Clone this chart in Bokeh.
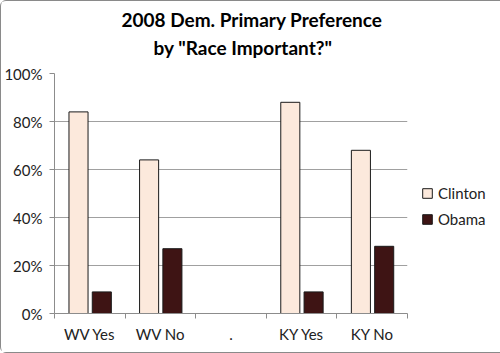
from bokeh.plotting import figure
from bokeh.models import (Range1d, FixedTicker, Legend, LegendItem, Title,
                          PrintfTickFormatter, CustomJSTickFormatter, ColumnDataSource)
from bokeh.transform import dodge
from bokeh.embed import file_html
from bokeh.resources import INLINE

categories = ["WV Yes", "WV No", ".", "KY Yes", "KY No"]
clinton = [84, 64, float("nan"), 88, 68]
obama = [9, 27, float("nan"), 9, 28]
y_ticks = [0, 20, 40, 60, 80, 100]

xs = [i + 0.5 for i in range(len(categories))]
src = ColumnDataSource(dict(x=xs, clinton=clinton, obama=obama))

FONT = "Lato"
p = figure(frame_width=353, frame_height=240, output_backend="svg", toolbar_location=None,
           x_range=Range1d(0, len(categories)), y_range=Range1d(0, 100),
           min_border_left=52, min_border_right=0, min_border_top=72, min_border_bottom=39)
p.styles = {"border": "1px solid #8a8a8a", "border-radius": "6px"}
p.outline_line_color = None
p.background_fill_color = "white"
p.border_fill_color = "white"

c = p.vbar(x=dodge("x", -0.16), width=0.27, top="clinton", bottom=0,
           source=src, fill_color="#FCE9DC", line_color="#1a1a1a", line_width=1)
o = p.vbar(x=dodge("x", 0.17), width=0.27, top="obama", bottom=0,
           source=src, fill_color="#3E1414", line_color="#1a1a1a", line_width=1)

# y axis
p.yaxis.ticker = FixedTicker(ticks=y_ticks)
p.yaxis.formatter = PrintfTickFormatter(format="%d%%")
p.yaxis.minor_tick_line_color = None
p.yaxis.major_tick_in = 0
p.yaxis.major_tick_out = 5
p.yaxis.major_label_standoff = 7
p.yaxis.axis_line_color = "#8c8c8c"
p.yaxis.major_tick_line_color = "#8c8c8c"

# x axis
p.xaxis.ticker = FixedTicker(ticks=xs, minor_ticks=list(range(len(categories) + 1)))
p.xaxis.formatter = CustomJSTickFormatter(args=dict(labels=categories),
                                          code="const i = Math.round(tick - 0.5); return labels[i] || '';")
p.xaxis.major_tick_in = 0
p.xaxis.major_tick_out = 0
p.xaxis.minor_tick_in = 0
p.xaxis.minor_tick_out = 5
p.xaxis.minor_tick_line_color = "#8c8c8c"
p.xaxis.axis_line_color = "#8c8c8c"
p.xaxis.major_label_standoff = 6

for ax in (p.xaxis, p.yaxis):
    ax.major_label_text_font = FONT
    ax.major_label_text_font_size = "15px"
    ax.major_label_text_color = "#222222"

p.xgrid.grid_line_color = None
p.ygrid.grid_line_color = "#a0a0a0"
p.ygrid.ticker = FixedTicker(ticks=y_ticks)

legend = Legend(items=[LegendItem(label="Clinton", renderers=[c]),
                       LegendItem(label="Obama", renderers=[o])],
                location=(14, 85), border_line_color=None, background_fill_alpha=0,
                label_text_font=FONT, label_text_font_size="15px", label_text_color="#222222",
                glyph_width=12, glyph_height=12, spacing=8, label_standoff=5,
                padding=0, margin=14)
p.add_layout(legend, "right")

# spacer between frame and title lines
p.add_layout(Title(text=" ", text_font_size="10px", standoff=0), "above")
p.add_layout(Title(text='by "Race Important?"', align="left", text_font=FONT,
                   text_font_size="19px", text_font_style="bold", text_color="#000000",
                   offset=99, standoff=4), "above")
p.add_layout(Title(text="2008 Dem. Primary Preference", align="left", text_font=FONT,
                   text_font_size="19px", text_font_style="bold", text_color="#000000",
                   offset=67, standoff=2), "above")

open("out.html", "w").write(file_html(p, INLINE))
